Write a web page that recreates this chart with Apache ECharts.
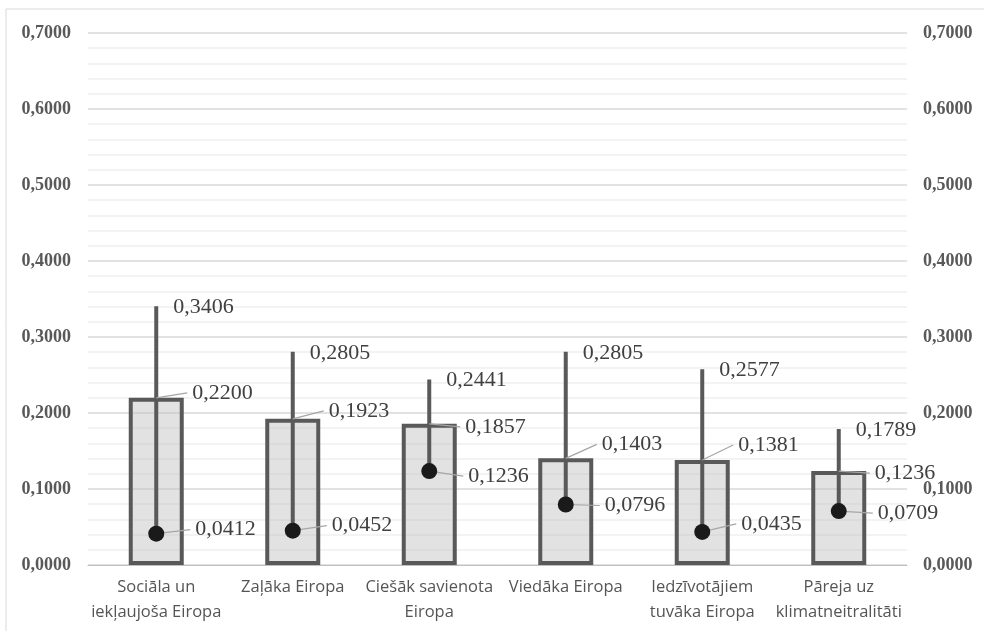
<!DOCTYPE html>
<html>
<head>
<meta charset="utf-8">
<script src="https://cdn.jsdelivr.net/npm/echarts@6/dist/echarts.min.js"></script>
<style>
html,body{margin:0;padding:0;background:#fff;}
#chart{width:984px;height:631px;}
</style>
</head>
<body>
<div id="chart"></div>
<script>
const categories = ['Sociāla un\niekļaujoša Eiropa', 'Zaļāka Eiropa', 'Ciešāk savienota\nEiropa', 'Viedāka Eiropa', 'Iedzīvotājiem\ntuvāka Eiropa', 'Pāreja uz\nklimatneitralitāti'];
const avgValues = [0.2200, 0.1923, 0.1857, 0.1403, 0.1381, 0.1236];
const minValues = [0.0412, 0.0452, 0.1236, 0.0796, 0.0435, 0.0709];
const maxValues = [0.3406, 0.2805, 0.2441, 0.2805, 0.2577, 0.1789];
const yTicks = [0, 0.1, 0.2, 0.3, 0.4, 0.5, 0.6, 0.7];

// label vertical nudges (px) for avg and min labels
const avgLabelDy = [-6, -9, 2, -15, -16, 1];
const minLabelDy = [-4, -5, 5, 1, -8, 2];

const fmt = v => v.toFixed(4).replace('.', ',');

const chart = echarts.init(document.getElementById('chart'), null, {renderer: 'canvas'});

const axisLabelStyle = {
  fontFamily: 'Liberation Serif',
  fontWeight: 'bold',
  fontSize: 18,
  color: '#595959',
  formatter: v => fmt(v)
};

const customData = categories.map((c, i) => [i, minValues[i], maxValues[i], avgValues[i]]);

const option = {
  animation: false,
  backgroundColor: '#fff',
  graphic: [{
    type: 'rect',
    shape: {x: 6, y: 9, width: 1100, height: 700},
    style: {fill: 'none', stroke: '#d9d9d9', lineWidth: 1},
    silent: true, z: -10
  }],
  grid: {left: 88, right: 77, top: 33, bottom: 66},
  xAxis: {
    type: 'category',
    data: categories,
    boundaryGap: true,
    axisLine: {show: true, lineStyle: {color: '#bfbfbf', width: 1}},
    axisTick: {show: false},
    axisLabel: {
      fontFamily: 'Open Sans',
      fontSize: 16.5,
      color: '#555555',
      lineHeight: 25,
      margin: 10,
      interval: 0
    }
  },
  yAxis: [{
    type: 'value',
    min: yTicks[0], max: yTicks[yTicks.length - 1], interval: 0.1,
    position: 'left',
    axisLine: {show: false},
    axisTick: {show: false},
    axisLabel: Object.assign({margin: 17}, axisLabelStyle),
    splitLine: {show: true, lineStyle: {color: '#d9d9d9', width: 1.5}},
    minorTick: {show: false, splitNumber: 5},
    minorSplitLine: {show: true, lineStyle: {color: '#efefef', width: 1.5}}
  }, {
    type: 'value',
    min: yTicks[0], max: yTicks[yTicks.length - 1], interval: 0.1,
    position: 'right',
    axisLine: {show: false},
    axisTick: {show: false},
    axisLabel: Object.assign({margin: 16}, axisLabelStyle),
    splitLine: {show: false}
  }],
  series: [{
    type: 'bar',
    data: avgValues,
    barWidth: 55,
    itemStyle: {
      color: 'rgba(190,190,190,0.45)',
      borderColor: '#595959',
      borderWidth: 4
    },
    z: 2
  }, {
    type: 'custom',
    data: customData,
    z: 5,
    renderItem: function (params, api) {
      const i = api.value(0);
      const mn = api.value(1), mx = api.value(2), av = api.value(3);
      const pMin = api.coord([i, mn]);
      const pMax = api.coord([i, mx]);
      const pAvg = api.coord([i, av]);
      const x = pMin[0];
      const textStyle = (t, tx, ty) => ({
        text: t, x: tx, y: ty, fill: '#404040',
        fontFamily: 'Liberation Serif', fontSize: 22,
        align: 'left', verticalAlign: 'middle'
      });
      const ady = avgLabelDy[i], mdy = minLabelDy[i];
      return {
        type: 'group',
        children: [
          {type: 'line', shape: {x1: x, y1: pMin[1], x2: x, y2: pMax[1]},
           style: {stroke: '#595959', lineWidth: 4}},
          {type: 'line', shape: {x1: x, y1: pAvg[1], x2: x + 31, y2: pAvg[1] + ady + 1},
           style: {stroke: '#a6a6a6', lineWidth: 1.2}},
          {type: 'line', shape: {x1: x, y1: pMin[1], x2: x + 34, y2: pMin[1] + mdy},
           style: {stroke: '#a6a6a6', lineWidth: 1.2}},
          {type: 'circle', shape: {cx: x, cy: pMin[1], r: 8},
           style: {fill: '#1a1a1a'}},
          {type: 'text', style: textStyle(fmt(mx), x + 17, pMax[1] + 1)},
          {type: 'text', style: textStyle(fmt(av), x + 36, pAvg[1] + ady + 1)},
          {type: 'text', style: textStyle(fmt(mn), x + 39, pMin[1] + mdy)}
        ]
      };
    }
  }]
};

chart.setOption(option);
</script>
</body>
</html>
